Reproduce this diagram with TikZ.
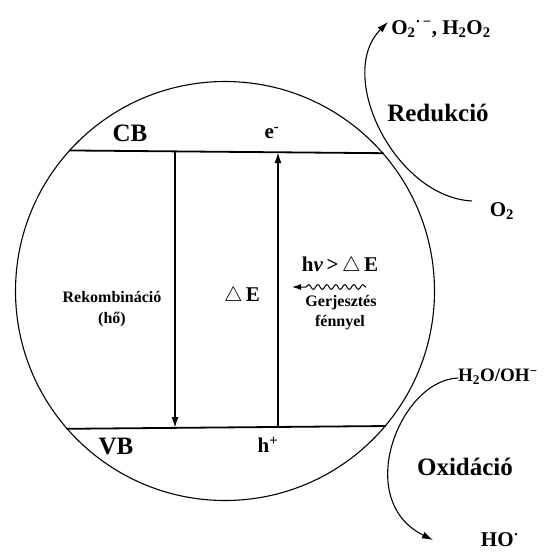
\documentclass[tikz,border=0pt]{standalone}
\usepackage{fontspec}
\setmainfont{Liberation Serif}
\usepackage{tikz}
\usetikzlibrary{arrows.meta,decorations.pathmorphing}

\begin{document}
\begin{tikzpicture}[x=1pt,y=-1pt,>={Latex[length=11pt,width=7pt]},
  lbl/.style={inner sep=0pt,font=\bfseries\fontsize{16}{18}\selectfont},
  midlbl/.style={inner sep=0pt,font=\bfseries\fontsize{21}{23}\selectfont},
  biglbl/.style={inner sep=0pt,font=\bfseries\fontsize{25}{27}\selectfont},
  band/.style={line width=1.8pt},
  jump/.style={->,line width=1.8pt},
  redox/.style={->,line width=1.1pt}]
  \useasboundingbox (0,0) rectangle (547,555);
  \node[circle,draw,line width=1.1pt,minimum size=419pt,inner sep=0pt] (disc) at (225,291) {};
  % bands
  \coordinate (cbL) at (disc.138.5);
  \coordinate (cbR) at (disc.41.5);
  \coordinate (vbL) at (disc.-139.3);
  \coordinate (vbR) at (disc.-40.7);
  \draw[band] (cbL) -- (cbR);
  \draw[band] (vbL) -- (vbR);
  \node[biglbl] (cb) at (130,133) {CB};
  \node[biglbl] (vb) at (116,446) {VB};
  \node[midlbl] (elec) at (272,133) {e\textsuperscript{-}};
  \node[midlbl] (hole) at (268,445) {h\textsuperscript{+}};
  % transitions
  \coordinate (recT) at (175,152);
  \coordinate (recB) at (175,428);
  \coordinate (excB) at (278,428);
  \coordinate (excT) at (278,152);
  \draw[jump] (recT) -- (recB);
  \draw[jump] (excB) -- (excT);
  \node[lbl] (rek) at (112,297) {Rekombináció};
  \node[lbl] (heat) at (112,320) {(hő)};
  \node[midlbl] (gap) at (242,296) {$\bigtriangleup$\,E};
  \node[midlbl] (hnu) at (340,266) {h\textit{ν}\,>\,$\bigtriangleup$\,E};
  \node[lbl] (gerj) at (341,303) {Gerjesztés};
  \node[lbl] (feny) at (340,323) {fénnyel};
  \coordinate (wtip) at (292,287);
  \coordinate (wend) at (366,287);
  \draw[<-,line width=1pt,>={Latex[length=9pt,width=6pt]},decorate,
    decoration={snake,amplitude=2.4pt,segment length=9pt,pre length=14pt}] (wtip) -- (wend);
  % reduction
  \node[midlbl] (prod) at (441,29) {O\textsubscript{2}\textsuperscript{·\,−}, H\textsubscript{2}O\textsubscript{2}};
  \node[biglbl] (red) at (438,113) {Redukció};
  \node[midlbl] (oxy) at (502,211) {O\textsubscript{2}};
  \coordinate (redA) at (472,201);
  \coordinate (redB) at (388,22);
  \draw[redox] (redA) .. controls (395,197) and (335,75) .. (redB);
  % oxidation
  \node[midlbl,font=\bfseries\fontsize{19}{21}\selectfont] (water) at (498,377) {H\textsubscript{2}O/OH\textsuperscript{−}};
  \node[biglbl] (ox) at (465,467) {Oxidáció};
  \node[midlbl] (rad) at (500,540) {HO\textsuperscript{·}};
  \coordinate (oxA) at (458,378);
  \coordinate (oxB) at (433,540);
  \draw[redox] (oxA) .. controls (400,380) and (352,500) .. (oxB);
\end{tikzpicture}
\end{document}
